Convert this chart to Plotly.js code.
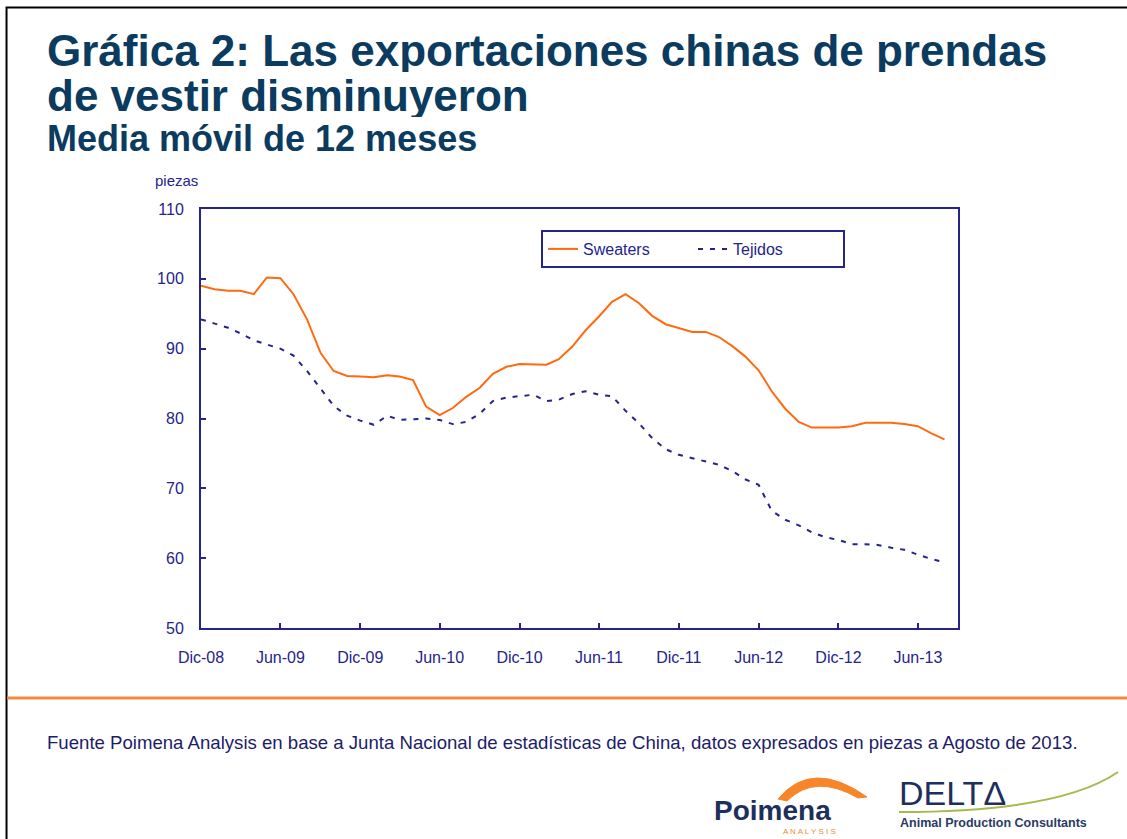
<!DOCTYPE html>
<html>
<head>
<meta charset="utf-8">
<script src="https://cdn.plot.ly/plotly-3.0.1.min.js"></script>
<style>
  html, body { margin: 0; padding: 0; background: #fff; }
  #chart { width: 1127px; height: 839px; }
</style>
</head>
<body>
<div id="chart"></div>
<script>
// ----- data: 12-month moving average, pieces -----
const meses = [
  "2008-12",
  "2009-01", "2009-02", "2009-03", "2009-04", "2009-05", "2009-06",
  "2009-07", "2009-08", "2009-09", "2009-10", "2009-11", "2009-12",
  "2010-01", "2010-02", "2010-03", "2010-04", "2010-05", "2010-06",
  "2010-07", "2010-08", "2010-09", "2010-10", "2010-11", "2010-12",
  "2011-01", "2011-02", "2011-03", "2011-04", "2011-05", "2011-06",
  "2011-07", "2011-08", "2011-09", "2011-10", "2011-11", "2011-12",
  "2012-01", "2012-02", "2012-03", "2012-04", "2012-05", "2012-06",
  "2012-07", "2012-08", "2012-09", "2012-10", "2012-11", "2012-12",
  "2013-01", "2013-02", "2013-03", "2013-04", "2013-05", "2013-06",
  "2013-07", "2013-08"
];

const sweaters = [
  99.0,
  98.5, 98.3, 98.3, 97.8, 100.2, 100.1,
  97.8, 94.2, 89.4, 86.8, 86.1, 86.0,
  85.9, 86.2, 86.0, 85.5, 81.7, 80.5,
  81.5, 83.1, 84.4, 86.4, 87.4, 87.8,
  87.8, 87.7, 88.5, 90.3, 92.6, 94.6,
  96.7, 97.8, 96.5, 94.7, 93.5, 93.0,
  92.4, 92.4, 91.7, 90.4, 88.9, 86.9,
  83.9, 81.4, 79.5, 78.7, 78.7, 78.7,
  78.9, 79.4, 79.4, 79.4, 79.2, 78.9,
  77.9, 77.0
];

const tejidos = [
  94.2,
  93.6, 93.0, 92.2, 91.2, 90.6, 90.0,
  89.0, 86.8, 84.3, 81.8, 80.4, 79.7,
  79.1, 80.4, 79.8, 79.9, 80.0, 79.8,
  79.2, 79.5, 80.7, 82.5, 83.0, 83.2,
  83.4, 82.5, 82.7, 83.5, 83.9, 83.4,
  83.2, 81.1, 79.3, 77.2, 75.6, 74.8,
  74.3, 73.8, 73.4, 72.5, 71.3, 70.5,
  66.8, 65.5, 64.7, 63.7, 63.0, 62.6,
  62.0, 62.0, 61.9, 61.5, 61.2, 60.5,
  59.9, 59.4
];

const tickFechas = ["2008-12-01", "2009-06-01", "2009-12-01", "2010-06-01", "2010-12-01",
                    "2011-06-01", "2011-12-01", "2012-06-01", "2012-12-01", "2013-06-01"];
const tickTextos = ["Dic-08", "Jun-09", "Dic-09", "Jun-10", "Dic-10",
                    "Jun-11", "Dic-11", "Jun-12", "Dic-12", "Jun-13"];

// ----- page geometry (pixels of the 1127x839 slide) -----
const W = 1127, H = 839;
const plotL = 201, plotR = 958, plotT = 209, plotB = 628;
const navy = "#24248c";
const orange = "#ff6a10";

// pixel -> paper coordinates, for the text and decorations around the chart
function px(x) { return (x - plotL) / (plotR - plotL); }
function py(y) { return (plotB - y) / (plotB - plotT); }
function pathOf(points) {
  return points.map(p => {
    if (typeof p === "string") return p;
    return px(p[0]).toFixed(4) + "," + py(p[1]).toFixed(4);
  }).join(" ");
}

function label(text, x, y, size, color, opts) {
  return Object.assign({
    text: text, x: px(x), y: py(y), xref: "paper", yref: "paper",
    xanchor: "left", yanchor: "middle", showarrow: false,
    font: { family: "Liberation Sans, Arial, sans-serif", size: size, color: color }
  }, opts || {});
}

const traces = [
  {
    x: meses, y: sweaters, name: "Sweaters",
    type: "scatter", mode: "lines",
    line: { color: orange, width: 2 }
  },
  {
    x: meses, y: tejidos, name: "Tejidos",
    type: "scatter", mode: "lines",
    line: { color: navy, width: 2, dash: "5px,7px" }
  }
];

const titleColor = "#0b3b5e";

const annotations = [
  label("<b>Gráfica 2: Las exportaciones chinas de prendas</b>", 45, 50, 44, titleColor, { height: 44 }),
  label("<b>de vestir disminuyeron</b>", 45, 95, 44, titleColor, { height: 44 }),
  label("<b>Media móvil de 12 meses</b>", 45, 138, 36, titleColor, { height: 38 }),
  label("piezas", 153, 181, 15, navy),
  label("Fuente Poimena Analysis en base a Junta Nacional de estadísticas de China, datos expresados en piezas a Agosto de 2013.",
        45, 742, 18.6, "#1c1c6b"),
  // logos
  label("<b>Poimena</b>", 712, 810, 28, "#1d2f5c"),
  label("A N A L Y S I S", 781, 831, 8, "#f08a3c"),
  label("DELTΔ", 897, 793, 34, "#1d2f5c"),
  label("<b>Animal Production Consultants</b>", 898, 823, 12.5, "#2b3a66")
];

const shapes = [
  // slide frame (left and top edges)
  { type: "path", xref: "paper", yref: "paper",
    path: "M" + pathOf([[6.5, 845], "L", [6.5, 7.5], "L", [1135, 7.5]]),
    line: { color: "#000", width: 2 } },
  // orange separator
  { type: "line", xref: "paper", yref: "paper",
    x0: px(7), x1: px(1135), y0: py(698), y1: py(698),
    line: { color: "#f58a3a", width: 3 } },
  // Poimena wheat swoosh
  { type: "path", xref: "paper", yref: "paper",
    path: "M" + pathOf([[778, 799], "Q", [812, 758], [867, 797], "L", [858, 798], "Q", [815, 773], [787, 801], "Z"]),
    fillcolor: "#f7862a", line: { color: "#f7862a", width: 1 } },
  // DELTA green swoosh
  { type: "path", xref: "paper", yref: "paper",
    path: "M" + pathOf([[899, 812], "Q", [1060, 812], [1118, 772]]),
    line: { color: "#a9b84c", width: 2 } }
];

const axisCommon = {
  showline: true, linecolor: navy, linewidth: 2, mirror: true,
  showgrid: false, zeroline: false,
  ticks: "inside", tickcolor: navy, tickwidth: 2,
  tickfont: { family: "Liberation Sans, Arial, sans-serif", size: 16, color: navy }
};

const layout = {
  width: W, height: H,
  margin: { l: plotL, r: W - plotR, t: plotT, b: H - plotB, pad: 0 },
  paper_bgcolor: "#ffffff",
  plot_bgcolor: "#ffffff",
  showlegend: true,
  legend: {
    x: px(541), y: py(230), xanchor: "left", yanchor: "top",
    orientation: "h",
    entrywidth: 105, entrywidthmode: "pixels",
    bgcolor: "#ffffff", bordercolor: navy, borderwidth: 2,
    font: { family: "Liberation Sans, Arial, sans-serif", size: 16, color: navy }
  },
  xaxis: Object.assign({}, axisCommon, {
    type: "date",
    range: ["2008-12-01", "2013-09-01"],
    tickvals: tickFechas, ticktext: tickTextos,
    ticklen: 5, ticklabelstandoff: 14
  }),
  yaxis: Object.assign({}, axisCommon, {
    range: [50, 110], dtick: 10, tick0: 50,
    ticklen: 5, ticklabelstandoff: 12
  }),
  annotations: annotations,
  shapes: shapes
};

Plotly.newPlot("chart", traces, layout, { displayModeBar: false, staticPlot: true });
</script>
</body>
</html>
